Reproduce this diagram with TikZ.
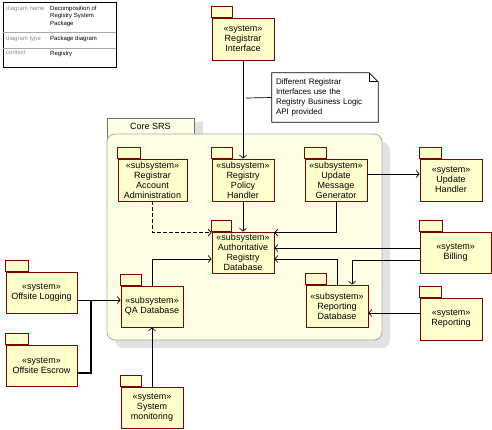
\documentclass[tikz,border=0pt]{standalone}
\usepackage{fontspec}
\setmainfont{Liberation Sans}
\usetikzlibrary{arrows.meta}
\definecolor{PkgRed}{HTML}{800000}
\definecolor{PkgFill}{HTML}{FFFFCC}
\definecolor{CoreFill}{HTML}{FFFFE6}
\definecolor{CoreLine}{HTML}{A8A8A8}
\definecolor{CoreTabLine}{HTML}{707070}
\definecolor{ShadowGray}{HTML}{E2E2E2}
\definecolor{KeyGray}{HTML}{8C8C8C}

\newcommand{\pkgtab}[2]{\draw[tab] (#1.north west) rectangle ++(#2,-11);}

\begin{document}
\begin{tikzpicture}[
    x=1pt, y=-1pt,
    every node/.style={font=\fontsize{9}{10}\selectfont, align=center},
    pkg/.style={draw=PkgRed, fill=PkgFill, line width=0.8pt, minimum width=62pt, minimum height=42pt, inner sep=1pt},
    widepkg/.style={pkg, minimum width=70pt},
    tab/.style={draw=PkgRed, fill=PkgFill, line width=0.8pt},
    dep/.style={-{Straight Barb[length=3pt,width=7pt,line width=0.7pt]}, line width=0.7pt},
    depdash/.style={dep, line width=1.5pt, dash pattern=on 4pt off 2pt},
    plain/.style={line width=0.7pt},
    heavy/.style={line width=1.6pt},
    note/.style={minimum width=106pt, minimum height=49pt, text width=98pt, align=left, inner sep=4pt, font=\fontsize{8}{10}\selectfont},
    legkey/.style={anchor=north west, inner sep=0pt, align=left, text=KeyGray, font=\fontsize{6}{7.5}\selectfont},
    legval/.style={legkey, text=black}
  ]
    \useasboundingbox (0,0) rectangle (492,429);

    % legend
    \draw[line width=0.5pt] (3,2) rectangle (116,67);
    \draw[CoreLine, line width=0.5pt] (3,32) -- (116,32) (3,48) -- (116,48);
    \node[legkey] (namekey) at (6,5.8) {diagram name};
    \node[legval] (nameval) at (50,5.8) {Decomposition of\\Registry System\\Package};
    \node[legkey] (typekey) at (6,35.5) {diagram type};
    \node[legval] (typeval) at (50,35.5) {Package diagram};
    \node[legkey] (ctxkey) at (6,50.5) {context};
    \node[legval] (ctxval) at (50,50.5) {Registry};

    % Core SRS package
    \fill[ShadowGray] (115,122) rectangle (203,142);
    \fill[ShadowGray, rounded corners=8pt] (115,142) rectangle (390,348);
    \draw[CoreTabLine, fill=CoreFill, line width=0.7pt] (107,118) rectangle (194,142);
    \draw[CoreLine, fill=CoreFill, line width=0.8pt, rounded corners=8pt] (107,134) rectangle (382,340);
    \node (coretitle) at (150.5,126) {Core SRS};

    % packages
    \node[pkg] (regif) at (243,39) {«system»\\Registrar\\Interface};
    \pkgtab{regif}{21}
    \node[widepkg, minimum width=69pt] (regadmin) at (152.5,180) {«subsystem»\\Registrar\\Account\\Administration};
    \pkgtab{regadmin}{23}
    \node[pkg] (policy) at (243,180) {«subsystem»\\Registry\\Policy\\Handler};
    \pkgtab{policy}{21}
    \node[pkg] (umg) at (336,180) {«subsystem»\\Update\\Message\\Generator};
    \pkgtab{umg}{22}
    \node[pkg] (uh) at (451,180) {«system»\\Update\\Handler};
    \pkgtab{uh}{22}
    \node[pkg, minimum height=41pt] (auth) at (243,252.5) {«subsystem»\\Authoritative\\Registry\\Database};
    \pkgtab{auth}{20}
    \node[widepkg, minimum width=71pt, minimum height=41pt] (billing) at (455.5,252.5) {«system»\\Billing};
    \pkgtab{billing}{23}
    \node[pkg] (repdb) at (337,306) {«subsystem»\\Reporting\\Database};
    \pkgtab{repdb}{21}
    \node[pkg] (reporting) at (451,319) {«system»\\Reporting};
    \pkgtab{reporting}{22}
    \node[pkg, minimum height=41pt] (qa) at (152,306.5) {«subsystem»\\QA Database};
    \pkgtab{qa}{21}
    \node[widepkg, minimum width=71pt, minimum height=41pt] (logging) at (41.5,292.5) {«system»\\Offsite Logging};
    \pkgtab{logging}{23}
    \node[widepkg, minimum width=71pt, minimum height=41pt] (escrow) at (41.5,365.5) {«system»\\Offsite Escrow};
    \pkgtab{escrow}{23}
    \node[pkg, minimum height=41pt] (sysmon) at (152,407.5) {«system»\\System\\monitoring};
    \pkgtab{sysmon}{21}

    % note
    \node[note] (note) at (325,97.5) {Different Registrar\\Interfaces use the\\Registry Business Logic\\API provided};
    \draw[plain] (note.north west) -- ([xshift=-9pt]note.north east) -- ([yshift=-9pt]note.north east)
      -- (note.south east) -- (note.south west) -- cycle;
    \draw[plain] ([xshift=-9pt]note.north east) -- ([xshift=-9pt,yshift=-9pt]note.north east) -- ([yshift=-9pt]note.north east);
    \coordinate (notejoin) at (246,98);
    \draw[plain] (note.west) -- (notejoin);

    % dependencies
    \draw[dep] (regif) -- (policy);
    \draw[dep] ([yshift=6pt]umg.east) -- ([yshift=6pt]uh.west);
    \draw[depdash] (regadmin.south) |- ([yshift=-1pt]auth.north west);
    \draw[dep] (policy) -- (auth);
    \draw[dep] (umg.south) |- ([yshift=-1pt]auth.north east);
    \draw[dep] (billing.west |- 0,248) -- (auth.east |- 0,248);
    \draw[dep] (billing.west |- 0,260) -| ([xshift=15pt]repdb.north);
    \draw[dep] (repdb.north) |- (auth.east |- 0,259);
    \draw[dep] (qa.north) |- (auth.west |- 0,259);
    \draw[dep] (reporting.west |- 0,313) -- (repdb.east |- 0,313);
    \draw[dep] (logging.east |- 0,300) -- (qa.west |- 0,300);
    \coordinate (escrowjoin) at (91,300);
    \draw[heavy] (escrow.east |- 0,373) -| (escrowjoin);
    \draw[dep] (sysmon) -- (qa);
  \end{tikzpicture}
\end{document}
